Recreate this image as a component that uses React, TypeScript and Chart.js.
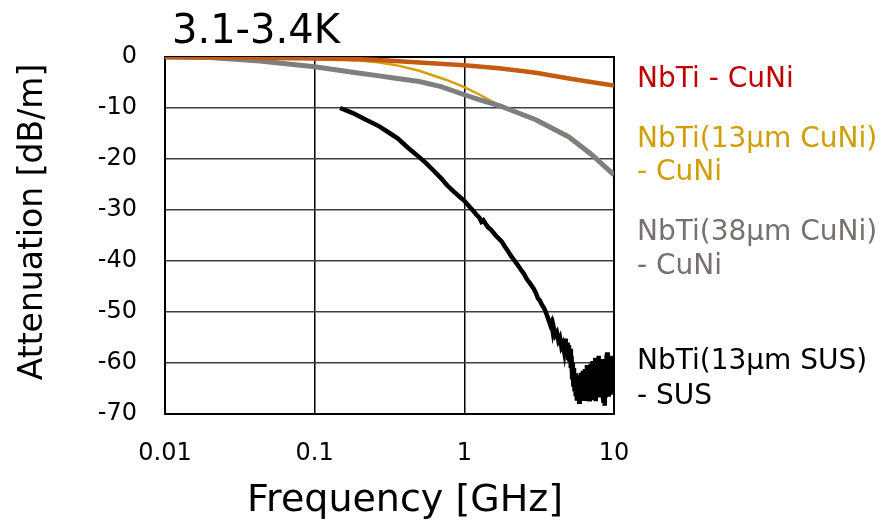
import React, { useEffect, useRef } from "react";
import { Chart, registerables } from "chart.js";

Chart.register(...registerables);

const FONT = "'DejaVu Sans', Verdana, sans-serif";

const titleText = "3.1-3.4K";
const xTitle = "Frequency [GHz]";
const yTitle = "Attenuation [dB/m]";
const xTickValues = [0.01, 0.1, 1, 10];

// NbTi - CuNi
const cuniFreq = [0.01, 0.02, 0.05, 0.1, 0.2, 0.27, 0.5, 1, 1.7, 2.35, 3, 5, 7, 10];
const cuniAtt = [0, -0.1, -0.2, -0.3, -0.45, -0.6, -1.1, -1.6, -2.2, -2.7, -3.1, -4.2, -4.9, -5.6];

// NbTi(13um CuNi) - CuNi
const cuni13Freq = [0.01, 0.02, 0.05, 0.1, 0.2, 0.27, 0.35, 0.5, 0.76, 1, 1.27, 1.5, 1.73, 2, 3, 5, 7, 10];
const cuni13Att = [0, -0.1, -0.2, -0.35, -0.7, -1.1, -1.6, -2.7, -4.5, -5.9, -7.4, -8.6, -9.5, -10.2, -12.1, -15.4, -18.7, -22.9];

// NbTi(38um CuNi) - CuNi
const cuni38Freq = [0.01, 0.02, 0.043, 0.1, 0.2, 0.27, 0.32, 0.5, 0.7, 1, 1.27, 1.73, 2, 3, 5, 7, 10];
const cuni38Att = [0, -0.1, -0.8, -1.9, -3.2, -3.7, -4.0, -4.8, -5.8, -7.4, -8.4, -9.6, -10.3, -12.3, -15.7, -19.0, -23.1];

// NbTi(13um SUS) - SUS : smooth part + noisy part
const susFreqLow = [
  0.148, 0.18, 0.22, 0.27, 0.32, 0.36, 0.42, 0.48, 0.55, 0.62, 0.7, 0.77, 0.85, 0.93, 1.0,
  1.08, 1.15, 1.21, 1.26, 1.3, 1.34, 1.38, 1.44, 1.5, 1.56, 1.62, 1.7, 1.78, 1.85, 1.95,
  2.05, 2.15, 2.25, 2.4, 2.5, 2.62, 2.75, 2.9, 3.0, 3.1, 3.2, 3.3, 3.4, 3.5, 3.58,
  3.65, 3.75, 3.82, 3.9, 3.95, 4.05, 4.15, 4.25, 4.35, 4.45, 4.55, 4.65, 4.75, 4.82, 4.9, 4.95,
];
const susAttLow = [
  -10.0, -11.0, -12.3, -13.6, -15.0, -16.0, -17.8, -19.2, -20.7, -22.2, -23.8, -25.2, -26.4, -27.4, -28.2,
  -29.3, -30.2, -31.0, -31.5, -32.3, -32.0, -32.6, -33.4, -33.8, -34.4, -35.0, -35.6, -36.2, -37.0, -38.0,
  -39.0, -39.8, -40.6, -41.8, -42.5, -43.6, -44.4, -45.4, -46.2, -47.3, -47.8, -48.6, -49.2, -50.0, -50.8,
  -51.5, -52.5, -52.0, -53.8, -53.0, -54.5, -54.0, -55.6, -55.0, -56.8, -56.2, -57.8, -55.2, -58.5, -56.0, -59.0,
];
const susFreqHigh = [
  5.0, 5.05, 5.1, 5.15, 5.2, 5.25, 5.3, 5.35, 5.4, 5.45, 5.5, 5.55, 5.6, 5.65, 5.7, 5.75, 5.8, 5.85, 5.9, 5.95,
  6.0, 6.05, 6.1, 6.15, 6.2, 6.25, 6.3, 6.35, 6.4, 6.45, 6.5, 6.55, 6.6, 6.65, 6.7, 6.75, 6.8, 6.85, 6.9, 6.95,
  7.0, 7.05, 7.1, 7.15, 7.2, 7.25, 7.3, 7.35, 7.4, 7.45, 7.5, 7.55, 7.6, 7.65, 7.7, 7.75, 7.8, 7.85, 7.9, 7.95,
  8.0, 8.05, 8.1, 8.15, 8.2, 8.25, 8.3, 8.35, 8.4, 8.45, 8.5, 8.55, 8.6, 8.65, 8.7, 8.75, 8.8, 8.85, 8.9, 8.95,
  9.0, 9.05, 9.1, 9.15, 9.2, 9.25, 9.3, 9.35, 9.4, 9.45, 9.5, 9.55, 9.6, 9.65, 9.7, 9.75, 9.8, 9.85, 9.9, 9.95, 10.0,
];
const susAttHigh = [
  -56.5, -59.8, -57.2, -61.0, -58.6, -62.8, -59.9, -64.2, -61.0, -65.6, -62.0, -66.5, -63.2, -67.4, -62.6, -66.0, -63.0, -67.6, -62.4, -65.8,
  -61.9, -66.9, -63.1, -65.4, -61.5, -66.2, -62.8, -67.0, -61.2, -65.9, -62.0, -64.7, -60.4, -66.3, -61.6, -65.2, -60.9, -67.1, -62.3, -65.7,
  -60.1, -66.6, -61.4, -64.9, -59.6, -66.8, -61.8, -65.3, -60.2, -63.9, -59.0, -67.5, -61.7, -65.1, -60.6, -66.0, -59.4, -64.4, -58.6, -65.6,
  -60.3, -66.7, -61.2, -64.6, -59.7, -66.1, -60.9, -65.0, -59.2, -66.9, -61.5, -67.8, -62.2, -68.4, -61.0, -66.3, -60.0, -65.4, -58.4, -64.8,
  -57.9, -63.6, -59.3, -66.2, -60.1, -65.0, -58.7, -64.1, -59.5, -65.8, -60.4, -63.7, -58.6, -65.2, -59.8, -64.0, -60.7, -65.3, -59.9, -64.4, -61.2,
];

const legendLines = [
  { text: "NbTi - CuNi", color: "#C00000", y: 80 },
  { text: "NbTi(13\u03bcm CuNi)", color: "#D09E00", y: 140 },
  { text: "- CuNi", color: "#D09E00", y: 173 },
  { text: "NbTi(38\u03bcm CuNi)", color: "#767171", y: 233 },
  { text: "- CuNi", color: "#767171", y: 267 },
  { text: "NbTi(13\u03bcm SUS)", color: "#000000", y: 362 },
  { text: "- SUS", color: "#000000", y: 397 },
];

const toPts = (xs: number[], ys: number[]) => xs.map((x, i) => ({ x, y: ys[i] }));

const framePlugin = {
  id: "frame",
  beforeDatasetsDraw(chart: any) {
    const { ctx, chartArea: a } = chart;
    ctx.save();
    ctx.strokeStyle = "#000";
    ctx.lineWidth = 2;
    ctx.strokeRect(a.left, a.top, a.right - a.left, a.bottom - a.top);
    ctx.restore();
  },
};

const textPlugin = {
  id: "texts",
  afterDraw(chart: any) {
    const ctx = chart.ctx;
    ctx.save();
    ctx.fillStyle = "#000";
    ctx.textBaseline = "alphabetic";
    ctx.textAlign = "left";
    ctx.font = `40px ${FONT}`;
    ctx.fillText(titleText, 172, 43);

    ctx.textAlign = "center";
    ctx.font = `38px ${FONT}`;
    ctx.fillText(xTitle, 405, 511);

    ctx.save();
    ctx.translate(42, 222);
    ctx.rotate(-Math.PI / 2);
    ctx.font = `33px ${FONT}`;
    ctx.fillText(yTitle, 0, 0);
    ctx.restore();

    ctx.textAlign = "left";
    ctx.textBaseline = "middle";
    ctx.font = `28px ${FONT}`;
    for (const l of legendLines) {
      ctx.fillStyle = l.color;
      ctx.fillText(l.text, 637, l.y);
    }
    ctx.restore();
  },
};

export default function App() {
  const ref = useRef<HTMLCanvasElement>(null);
  useEffect(() => {
    document.body.style.margin = "0";
    const chart = new Chart(ref.current!, {
      type: "scatter",
      data: {
        datasets: [
          {
            label: "NbTi - CuNi",
            data: toPts(cuniFreq, cuniAtt),
            borderColor: "#C55A11",
            borderWidth: 4.5,
            showLine: true,
            pointRadius: 0,
            order: 1,
          },
          {
            label: "NbTi(13um CuNi) - CuNi",
            data: toPts(cuni13Freq, cuni13Att),
            borderColor: "#D4A00F",
            borderWidth: 2.5,
            showLine: true,
            pointRadius: 0,
            order: 3,
          },
          {
            label: "NbTi(38um CuNi) - CuNi",
            data: toPts(cuni38Freq, cuni38Att),
            borderColor: "#7F7F7F",
            borderWidth: 5,
            showLine: true,
            pointRadius: 0,
            order: 2,
          },
          {
            label: "NbTi(13um SUS) - SUS",
            data: toPts(susFreqLow.concat(susFreqHigh), susAttLow.concat(susAttHigh)),
            borderColor: "#000000",
            borderWidth: 4.5,
            showLine: true,
            pointRadius: 0,
            order: 0,
          },
        ],
      },
      options: {
        animation: false,
        responsive: false,
        events: [],
        layout: { padding: { left: 0, top: 57, right: 271, bottom: 0 } },
        plugins: { legend: { display: false }, tooltip: { enabled: false }, title: { display: false } },
        scales: {
          x: {
            type: "logarithmic",
            min: 0.01,
            max: 10,
            afterBuildTicks: (s: any) => {
              s.ticks = xTickValues.map((v) => ({ value: v }));
            },
            afterFit: (s: any) => {
              s.height = 107;
            },
            grid: { color: "#000", lineWidth: 1.5, drawTicks: false },
            border: { display: false },
            ticks: {
              autoSkip: false,
              maxRotation: 0,
              padding: 25,
              color: "#000",
              font: { family: FONT, size: 24 },
              callback: (v: any) => String(v),
            },
          },
          y: {
            min: -70,
            max: 0,
            afterFit: (s: any) => {
              s.width = 165;
            },
            grid: { color: "#3f3f3f", lineWidth: 1.5, drawTicks: false },
            border: { display: false },
            ticks: {
              stepSize: 10,
              padding: 28,
              color: "#000",
              font: { family: FONT, size: 24 },
            },
          },
        },
      },
      plugins: [framePlugin, textPlugin],
    });
    return () => chart.destroy();
  }, []);
  return (
    <div style={{ position: "absolute", left: 0, top: 0, width: 885, height: 521, background: "#fff" }}>
      <canvas ref={ref} width={885} height={521} />
    </div>
  );
}
